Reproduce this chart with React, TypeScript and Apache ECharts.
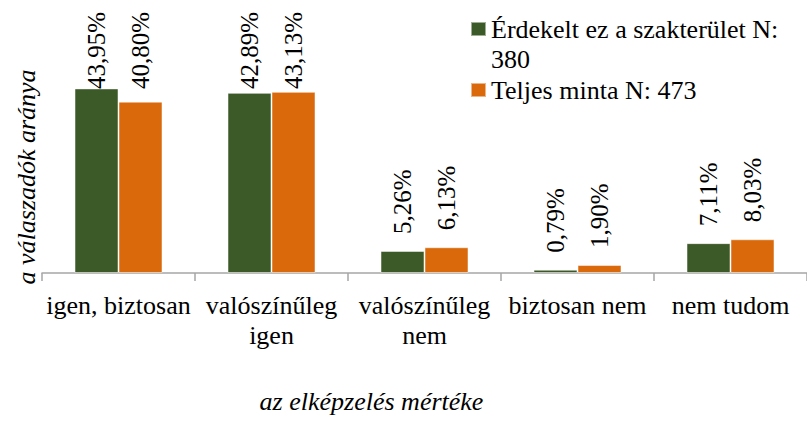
import React, { useEffect, useRef } from "react";
import * as echarts from "echarts";

const categories = ["igen, biztosan", "valószínűleg\nigen", "valószínűleg\nnem", "biztosan nem", "nem tudom"];
const seriesNames = ["Érdekelt ez a szakterület N: 380", "Teljes minta N: 473"];
const interestedValues = [43.95, 42.89, 5.26, 0.79, 7.11];
const totalValues = [40.8, 43.13, 6.13, 1.9, 8.03];
const xAxisTitle = "az elképzelés mértéke";
const yAxisTitle = "a válaszadók aránya";

const FONT = "Liberation Serif";
const GREEN = "#3c5a27";
const ORANGE = "#da690b";

export default function App() {
  const ref = useRef<HTMLDivElement>(null);
  useEffect(() => {
    if (!ref.current) return;
    const chart = echarts.init(ref.current, null, { renderer: "svg" });
    const labelCfg = {
      show: true,
      position: "top",
      rotate: 90,
      align: "left",
      verticalAlign: "middle",
      distance: 17,
      fontFamily: FONT,
      fontSize: 25,
      color: "#000",
      formatter: (p: any) => p.value.toFixed(2).replace(".", ",") + "%",
    };
    // keep labels inside the chart area (label is rotated, so local x points up)
    const clampLayout = (params: any) => {
      const r = params.labelRect;
      if (r && r.y < 12) return { dx: r.y - 12 };
      return {};
    };
    chart.setOption({
      animation: false,
      backgroundColor: "#fff",
      textStyle: { fontFamily: FONT },
      grid: { left: 42, right: -11, top: 63, bottom: 140, containLabel: false },
      legend: {
        orient: "vertical",
        left: 470,
        top: -16,
        padding: 0,
        itemGap: 1,
        itemWidth: 15,
        itemHeight: 14,
        icon: "rect",
        selectedMode: false,
        textStyle: {
          fontFamily: FONT,
          fontSize: 26,
          lineHeight: 30,
          color: "#000",
          rich: {
            a: { fontFamily: FONT, fontSize: 26, lineHeight: 30, height: 30, color: "#000" },
          },
        },
        // the wrapped first entry keeps its square beside its first line:
        // an invisible spacer line above balances the wrapped line below
        formatter: (name: string) =>
          name === seriesNames[0]
            ? "{a|\u00a0}\n{a|Érdekelt ez a szakterület N:}\n{a|380}"
            : "{a|" + name + "}",
        data: [{ name: seriesNames[0] }, { name: seriesNames[1] }],
      },
      xAxis: {
        type: "category",
        data: categories,
        axisLine: { lineStyle: { color: "#a6a6a6", width: 1.5 } },
        axisTick: { show: true, length: 8, lineStyle: { color: "#a6a6a6", width: 1.5 } },
        axisLabel: {
          interval: 0,
          margin: 17,
          fontFamily: FONT,
          fontSize: 26,
          lineHeight: 30,
          color: "#000",
        },
        name: xAxisTitle,
        nameLocation: "middle",
        nameGap: 113,
        nameTextStyle: {
          fontFamily: FONT,
          fontStyle: "italic",
          fontSize: 26,
          lineHeight: 30,
          color: "#000",
          padding: [0, 106, 0, 0],
        },
      },
      yAxis: {
        type: "value",
        min: 0,
        max: 50,
        axisLine: { show: false },
        axisTick: { show: false },
        axisLabel: { show: false },
        splitLine: { show: false },
        name: yAxisTitle,
        nameLocation: "middle",
        nameGap: 1,
        nameTextStyle: {
          fontFamily: FONT,
          fontStyle: "italic",
          fontSize: 26,
          lineHeight: 30,
          color: "#000",
          padding: [0, 18, 0, 0],
        },
      },
      series: [
        {
          name: seriesNames[0],
          type: "bar",
          data: interestedValues,
          barWidth: 44,
          barGap: "0%",
          itemStyle: { color: GREEN, borderColor: "rgba(255,255,255,0.5)", borderWidth: 1 },
          label: labelCfg,
          labelLayout: clampLayout,
        },
        {
          name: seriesNames[1],
          type: "bar",
          data: totalValues,
          barWidth: 44,
          barGap: "0%",
          itemStyle: { color: ORANGE, borderColor: "rgba(255,255,255,0.5)", borderWidth: 1 },
          label: labelCfg,
          labelLayout: clampLayout,
        },
      ],
    });
    return () => chart.dispose();
  }, []);
  return (
    <div
      ref={ref}
      style={{ position: "fixed", left: 0, top: 0, width: 807, height: 421 }}
    />
  );
}
